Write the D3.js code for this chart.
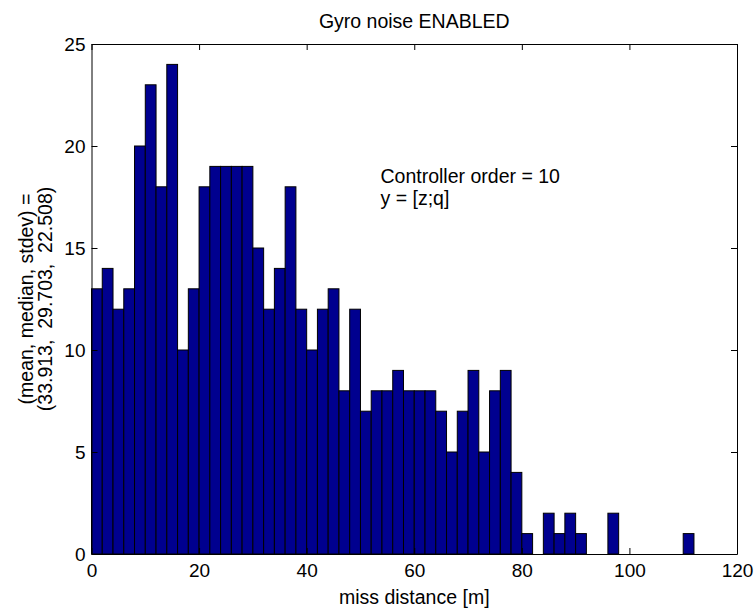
<!DOCTYPE html>
<html>
<head>
<meta charset="utf-8">
<script src="https://cdn.jsdelivr.net/npm/d3@7"></script>
<style>
  body { margin: 0; background: #fff; }
  svg text { font-family: "Liberation Sans", Arial, Helvetica, sans-serif; fill: #000; }
</style>
</head>
<body>
<svg id="chart" width="756" height="610"></svg>
<script>
// histogram bins (2 m wide) and counts
const binCenters = [1, 3, 5, 7, 9, 11, 13, 15, 17, 19, 21, 23, 25, 27, 29, 31, 33, 35, 37, 39,
    41, 43, 45, 47, 49, 51, 53, 55, 57, 59, 61, 63, 65, 67, 69, 71, 73, 75, 77, 79,
    81, 83, 85, 87, 89, 91, 93, 95, 97, 99, 101, 103, 105, 107, 109, 111];
const counts = [13, 14, 12, 13, 20, 23, 18, 24, 10, 13, 18, 19, 19, 19, 19, 15, 12, 14, 18, 12,
    10, 12, 13, 8, 12, 7, 8, 8, 9, 8, 8, 8, 7, 5, 7, 9, 5, 8, 9, 4,
    1, 0, 2, 1, 2, 1, 0, 0, 2, 0, 0, 0, 0, 0, 0, 1];
const binWidth = 2;

const xTicks = [0, 20, 40, 60, 80, 100, 120];
const yTicks = [0, 5, 10, 15, 20, 25];

const titleText = "Gyro noise ENABLED";
const xLabel = "miss distance [m]";
const yLabelLines = ["(mean, median, stdev) =", "(33.913,  29.703,  22.508)"];
const noteLines = ["Controller order = 10", "y = [z;q]"];

const svg = d3.select("#chart");
const plotLeft = 91.5, plotRight = 737, plotTop = 44, plotBottom = 554;
const fontSize = 19.5;
const tickFont = 19;

const x = d3.scaleLinear().domain([0, 120]).range([plotLeft, plotRight]);
const y = d3.scaleLinear().domain([0, 25]).range([plotBottom, plotTop]);

// bars
svg.append("g")
    .selectAll("rect")
    .data(binCenters.map((c, i) => ({ c, n: counts[i] })).filter(d => d.n > 0))
    .enter()
    .append("rect")
    .attr("x", d => x(d.c - binWidth / 2))
    .attr("width", d => x(d.c + binWidth / 2) - x(d.c - binWidth / 2))
    .attr("y", d => y(d.n))
    .attr("height", d => y(0) - y(d.n))
    .attr("fill", "#00008f")
    .attr("stroke", "#000")
    .attr("stroke-width", 1);

// axes, matlab style: ticks inside, full box
function styleAxis(g) {
    g.selectAll("path, line").attr("stroke", "#000").attr("stroke-width", 1);
    g.selectAll("text").style("font-size", tickFont + "px").attr("fill", "#000");
}

svg.append("g")
    .attr("transform", `translate(0,${plotBottom})`)
    .call(d3.axisBottom(x).tickValues(xTicks).tickSizeInner(-6).tickSizeOuter(0))
    .call(styleAxis)
    .call(g => g.selectAll("text").attr("dy", "0.71em").attr("y", 10));

svg.append("g")
    .attr("transform", `translate(0,${plotTop})`)
    .call(d3.axisTop(x).tickValues(xTicks).tickSizeInner(-6).tickSizeOuter(0).tickFormat(""))
    .call(styleAxis);

svg.append("g")
    .attr("transform", `translate(${plotLeft},0)`)
    .call(d3.axisLeft(y).tickValues(yTicks).tickSizeInner(-6).tickSizeOuter(0))
    .call(styleAxis)
    .call(g => g.selectAll("text").attr("x", -6));

svg.append("g")
    .attr("transform", `translate(${plotRight},0)`)
    .call(d3.axisRight(y).tickValues(yTicks).tickSizeInner(-6).tickSizeOuter(0).tickFormat(""))
    .call(styleAxis);

// title and labels
svg.append("text")
    .attr("x", (plotLeft + plotRight) / 2)
    .attr("y", 28)
    .attr("text-anchor", "middle")
    .style("font-size", fontSize + "px")
    .text(titleText);

svg.append("text")
    .attr("x", (plotLeft + plotRight) / 2)
    .attr("y", 604)
    .attr("text-anchor", "middle")
    .style("font-size", fontSize + "px")
    .text(xLabel);

const yMid = (plotTop + plotBottom) / 2;
yLabelLines.forEach((line, i) => {
    const bx = 33 + i * 19;
    svg.append("text")
        .attr("transform", `translate(${bx},${yMid}) rotate(-90)`)
        .attr("text-anchor", "middle")
        .style("font-size", fontSize + "px")
        .style("white-space", "pre")
        .text(line);
});

noteLines.forEach((line, i) => {
    svg.append("text")
        .attr("x", 380.5)
        .attr("y", 183 + i * 22)
        .style("font-size", fontSize + "px")
        .text(line);
});
</script>
</body>
</html>
